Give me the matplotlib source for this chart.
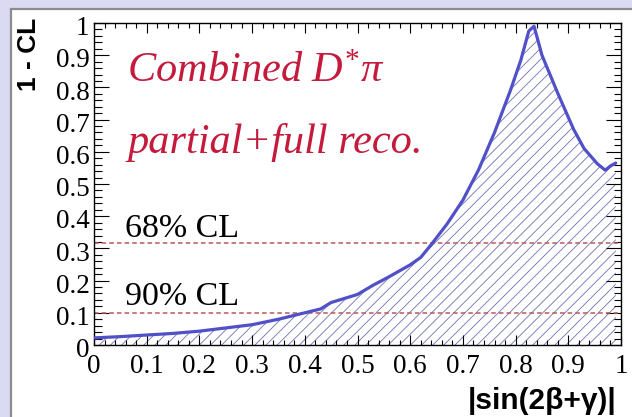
import numpy as np
import matplotlib
matplotlib.use("Agg")
import matplotlib.pyplot as plt
from matplotlib.patches import Rectangle
from matplotlib.ticker import AutoMinorLocator, FixedLocator
from matplotlib.transforms import ScaledTranslation

# 1 - CL scan versus |sin(2beta+gamma)|
sin2bg = [0.00, 0.05, 0.10, 0.15, 0.20, 0.25, 0.30, 0.35, 0.40, 0.43, 0.45,
          0.50, 0.53, 0.56, 0.60, 0.62, 0.64, 0.67, 0.70, 0.73, 0.76, 0.79,
          0.81, 0.825, 0.835, 0.85, 0.88, 0.91, 0.93, 0.955, 0.97, 0.98, 0.99]
one_minus_cl = [0.022, 0.026, 0.031, 0.036, 0.043, 0.053, 0.063, 0.080, 0.100,
                0.112, 0.132, 0.157, 0.186, 0.212, 0.249, 0.272, 0.312, 0.376,
                0.450, 0.545, 0.660, 0.790, 0.885, 0.975, 0.990, 0.900, 0.782,
                0.670, 0.610, 0.563, 0.543, 0.556, 0.565]

cl_levels = [0.317, 0.10]
cl_labels = ["68% CL", "90% CL"]
cl_label_y = [0.335, 0.124]

tick_values = [0.0, 0.1, 0.2, 0.3, 0.4, 0.5, 0.6, 0.7, 0.8, 0.9, 1.0]
tick_labels = ["0", "0.1", "0.2", "0.3", "0.4", "0.5", "0.6", "0.7", "0.8", "0.9", "1"]

plt.rcParams["mathtext.fontset"] = "custom"
plt.rcParams["mathtext.it"] = "Liberation Serif:italic"
plt.rcParams["mathtext.rm"] = "Liberation Serif"
plt.rcParams["hatch.linewidth"] = 0.6

W, H = 632, 417
fig = plt.figure(figsize=(W / 100, H / 100), dpi=100)
fig.patch.set_facecolor("#dadaf2")

# white canvas with grey border
canvas = Rectangle((11 / W, -0.05), 1.0, (H - 9) / H + 0.05,
                   transform=fig.transFigure, facecolor="white",
                   edgecolor="#8c8c8c", linewidth=1.6, zorder=-10)
fig.patches.append(canvas)

ax = fig.add_axes([94 / W, 1 - 345 / H, 527 / W, 322 / H])
ax.set_zorder(1)
ax.set_xlim(0, 1)
ax.set_ylim(0, 1)

ax.fill_between(sin2bg, 0, one_minus_cl, facecolor="white",
                edgecolor="#7070b8", hatch="///", linewidth=0, zorder=1)
ax.plot(sin2bg, one_minus_cl, color="#5050c8", linewidth=2.3, zorder=3,
        solid_joinstyle="round", solid_capstyle="round")

for lvl, lab, ly in zip(cl_levels, cl_labels, cl_label_y):
    ax.axhline(lvl, color="#b85a55", linewidth=1.1, linestyle=(0, (3, 2)), zorder=2)
    ax.text(0.059, ly, lab, fontsize=24.5, family="Liberation Serif",
            color="black", ha="left", va="baseline")

red = "#c41a3c"
ax.text(0.063, 0.818, r"$Combined\ D^{*}\pi$", fontsize=30.5, color=red,
        ha="left", va="baseline")
ax.text(0.063, 0.597, "partial+full reco.", fontsize=30.5, color=red,
        family="Liberation Serif", style="italic", ha="left", va="baseline")

# axes and ticks
for s in ax.spines.values():
    s.set_linewidth(1.0)
ax.xaxis.set_major_locator(FixedLocator(tick_values))
ax.yaxis.set_major_locator(FixedLocator(tick_values))
ax.set_xticklabels(tick_labels)
ax.set_yticklabels(tick_labels)
ax.xaxis.set_minor_locator(AutoMinorLocator(5))
ax.yaxis.set_minor_locator(AutoMinorLocator(5))
ax.tick_params(which="both", direction="in", top=True, right=True, width=0.8)
ax.tick_params(axis="x", which="major", length=7.2, pad=6.5)
ax.tick_params(axis="x", which="minor", length=3.6)
ax.tick_params(axis="y", which="major", length=10.8, pad=3.2)
ax.tick_params(axis="y", which="minor", length=5.4)
shift = ScaledTranslation(0, -2 / 72, fig.dpi_scale_trans)
for lab in ax.get_xticklabels() + ax.get_yticklabels():
    lab.set_family("Liberation Serif")
    lab.set_fontsize(19.5)
for lab in ax.get_yticklabels():
    lab.set_transform(lab.get_transform() + shift)

fig.text(616 / W, 1 - 409 / H, "|sin(2β+γ)|", fontsize=21.5,
         family="Liberation Sans", weight="bold", ha="right", va="baseline")
fig.text(29 / W, 1 - 18 / H, "1 - CL", fontsize=19, family="Liberation Sans",
         weight="bold", rotation=90, ha="center", va="top")

fig.savefig("out.png", dpi=100, facecolor=fig.get_facecolor())
